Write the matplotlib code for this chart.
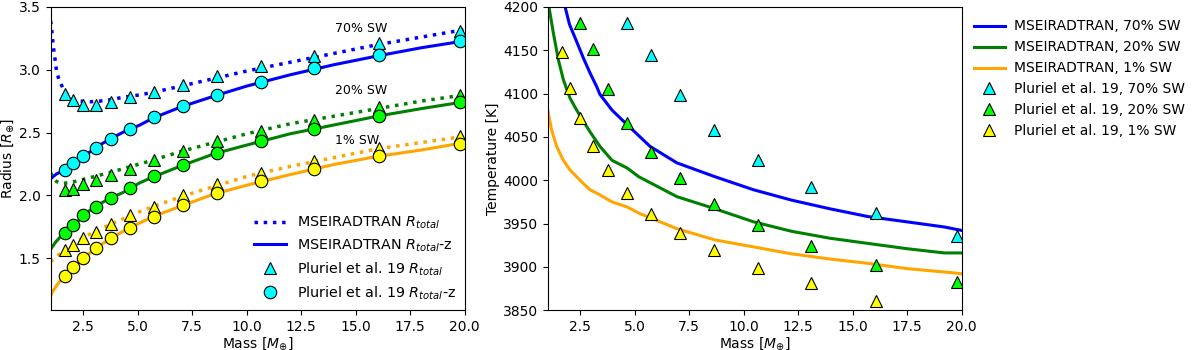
import numpy as np
import matplotlib
matplotlib.use("Agg")
import matplotlib.pyplot as plt

# masses of the Pluriel et al. 19 grid points [M_earth]
pl_mass = [1.68, 2.03, 2.5, 3.08, 3.78, 4.66, 5.73, 7.06, 8.65, 10.64, 13.09, 16.09, 19.8]

# Pluriel radii: R_total (triangles) and R_total-z (circles)
pl_rtot_70 = [2.81, 2.76, 2.72, 2.72, 2.74, 2.78, 2.82, 2.88, 2.95, 3.03, 3.11, 3.21, 3.31]
pl_rz_70 = [2.20, 2.26, 2.31, 2.38, 2.45, 2.53, 2.62, 2.71, 2.80, 2.90, 3.01, 3.12, 3.23]
pl_rtot_20 = [2.04, 2.05, 2.09, 2.12, 2.16, 2.21, 2.28, 2.35, 2.43, 2.51, 2.60, 2.70, 2.80]
pl_rz_20 = [1.70, 1.76, 1.84, 1.91, 1.98, 2.06, 2.15, 2.24, 2.34, 2.43, 2.53, 2.63, 2.74]
pl_rtot_1 = [1.56, 1.60, 1.66, 1.71, 1.77, 1.84, 1.91, 2.00, 2.09, 2.18, 2.27, 2.38, 2.47]
pl_rz_1 = [1.36, 1.43, 1.50, 1.58, 1.66, 1.74, 1.83, 1.92, 2.02, 2.11, 2.21, 2.31, 2.41]

# Pluriel temperatures (nan = outside the plotted range)
pl_temp_70 = [np.nan, np.nan, np.nan, np.nan, np.nan, 4181, 4144, 4098, 4058, 4023, 3992, 3962, 3936]
pl_temp_20 = [np.nan, np.nan, 4181, 4151, 4105, 4066, 4032, 4002, 3973, 3948, 3924, 3902, 3882]
pl_temp_1 = [4148, 4107, 4072, 4040, 4012, 3985, 3961, 3939, 3919, 3899, 3881, 3861, np.nan]

# MSEIRADTRAN radius curves
ms_mass = [1.0, 1.06, 1.12, 1.2, 1.27, 1.4, 1.58, 1.8, 2.0, 2.35, 2.8, 3.25, 3.7, 4.3,
           5.1, 5.7, 7.0, 8.5, 10.0, 12.0, 14.0, 16.0, 18.0, 20.0]
ms_rtot_70 = [3.39, 3.30, 3.19, 3.085, 2.99, 2.91, 2.85, 2.79, 2.77, 2.75, 2.745, 2.75, 2.76, 2.78,
              2.80, 2.82, 2.87, 2.93, 2.99, 3.06, 3.13, 3.20, 3.26, 3.32]
ms_rz_70 = [2.13, 2.14, 2.15, 2.16, 2.17, 2.18, 2.195, 2.22, 2.25, 2.295, 2.345, 2.40, 2.445, 2.50,
            2.56, 2.615, 2.705, 2.79, 2.87, 2.96, 3.04, 3.11, 3.175, 3.23]
ms_rtot_20 = [2.18, 2.16, 2.14, 2.12, 2.11, 2.10, 2.095, 2.10, 2.105, 2.12, 2.14, 2.16, 2.18, 2.21,
              2.25, 2.28, 2.35, 2.42, 2.49, 2.57, 2.63, 2.69, 2.75, 2.80]
ms_rz_20 = [1.57, 1.585, 1.60, 1.62, 1.635, 1.66, 1.69, 1.725, 1.755, 1.81, 1.88, 1.93, 1.975, 2.02,
            2.10, 2.145, 2.235, 2.33, 2.40, 2.49, 2.56, 2.63, 2.69, 2.745]
ms_rtot_1 = [1.47, 1.48, 1.49, 1.50, 1.51, 1.53, 1.55, 1.58, 1.61, 1.65, 1.69, 1.73, 1.765, 1.81,
             1.87, 1.91, 1.99, 2.07, 2.15, 2.23, 2.30, 2.37, 2.42, 2.47]
ms_rz_1 = [1.20, 1.22, 1.24, 1.26, 1.28, 1.31, 1.345, 1.385, 1.42, 1.47, 1.54, 1.60, 1.65, 1.71,
           1.78, 1.83, 1.915, 2.01, 2.08, 2.165, 2.245, 2.31, 2.36, 2.42]

# MSEIRADTRAN temperature curves
t_mass_70 = [1.8, 2.0, 2.33, 2.64, 2.94, 3.25, 3.4, 3.95, 4.65, 5.7, 6.93, 8.68, 10.44,
             12.19, 13.95, 15.7, 17.46, 19.2, 20.0]
t_70 = [4200, 4180, 4160, 4141, 4124, 4108, 4099, 4081, 4064, 4039, 4020, 4004, 3989,
        3977, 3967, 3958, 3952, 3946, 3942]
t_mass_20 = [1.06, 1.26, 1.49, 1.72, 2.02, 2.33, 2.64, 2.94, 3.4, 3.95, 4.65, 5.18, 6.93,
             8.68, 10.44, 12.19, 13.95, 15.7, 17.46, 19.2, 20.0]
t_20 = [4200, 4170, 4139, 4116, 4095, 4081, 4068, 4056, 4039, 4023, 4014, 4004, 3981,
        3967, 3952, 3941, 3933, 3927, 3921, 3916, 3916]
t_mass_1 = [1.0, 1.18, 1.41, 1.72, 2.02, 2.33, 2.64, 2.94, 3.4, 3.95, 4.65, 5.18, 6.93,
            8.68, 10.44, 12.19, 13.95, 15.7, 17.46, 19.2, 20.0]
t_1 = [4081, 4058, 4039, 4023, 4012, 4004, 3996, 3989, 3983, 3975, 3969, 3962, 3944,
       3931, 3923, 3915, 3909, 3904, 3898, 3894, 3892]

sw_labels = ["70% SW", "20% SW", "1% SW"]
line_colors = ["blue", "green", "orange"]
marker_colors = ["cyan", "lime", "yellow"]

plt.rcParams["font.size"] = 10

fig = plt.figure(figsize=(12, 3.5), dpi=100)
ax1 = fig.add_axes([0.0422, 0.114, 0.345, 0.866])
ax2 = fig.add_axes([0.4564, 0.114, 0.345, 0.866])

# ---- left panel: radius
rtot = [ms_rtot_70, ms_rtot_20, ms_rtot_1]
rz = [ms_rz_70, ms_rz_20, ms_rz_1]
p_rtot = [pl_rtot_70, pl_rtot_20, pl_rtot_1]
p_rz = [pl_rz_70, pl_rz_20, pl_rz_1]

for i in range(3):
    ax1.plot(ms_mass, rtot[i], ls=":", lw=2.5, color=line_colors[i],
             label="MSEIRADTRAN $R_{total}$" if i == 0 else None)
    ax1.plot(ms_mass, rz[i], ls="-", lw=2.2, color=line_colors[i],
             label="MSEIRADTRAN $R_{total}$-z" if i == 0 else None)
for i in range(3):
    ax1.plot(pl_mass, p_rtot[i], ls="none", marker="^", ms=9, mfc=marker_colors[i],
             mec="black", mew=0.8,
             label="Pluriel et al. 19 $R_{total}$" if i == 0 else None)
    ax1.plot(pl_mass, p_rz[i], ls="none", marker="o", ms=9, mfc=marker_colors[i],
             mec="black", mew=0.8,
             label="Pluriel et al. 19 $R_{total}$-z" if i == 0 else None)

ax1.text(14.05, 3.33, sw_labels[0], va="center", ha="left", fontsize=9)
ax1.text(14.05, 2.835, sw_labels[1], va="center", ha="left", fontsize=9)
ax1.text(14.05, 2.44, sw_labels[2], va="center", ha="left", fontsize=9)

ax1.set_xlim(1.0, 20.0)
ax1.set_ylim(1.085, 3.5)
ax1.set_xticks(np.arange(2.5, 20.01, 2.5))
ax1.set_yticks(np.arange(1.5, 3.51, 0.5))
ax1.set_xlabel(r"Mass [$M_{\oplus}$]", labelpad=1)
ax1.set_ylabel(r"Radius [$R_{\oplus}$]", labelpad=2)
ax1.legend(loc="lower right", frameon=False, handlelength=2.2, borderaxespad=0.2,
           fontsize=10.3, labelspacing=0.45)

# ---- right panel: temperature
t_masses = [t_mass_70, t_mass_20, t_mass_1]
t_vals = [t_70, t_20, t_1]
p_temp = [pl_temp_70, pl_temp_20, pl_temp_1]

for i in range(3):
    ax2.plot(t_masses[i], t_vals[i], lw=2.2, color=line_colors[i],
             label="MSEIRADTRAN, " + sw_labels[i])
for i in range(3):
    ax2.plot(pl_mass, p_temp[i], ls="none", marker="^", ms=9, mfc=marker_colors[i],
             mec="black", mew=0.8, label="Pluriel et al. 19, " + sw_labels[i])

ax2.set_xlim(1.0, 20.0)
ax2.set_ylim(3850, 4200)
ax2.set_xticks(np.arange(2.5, 20.01, 2.5))
ax2.set_yticks(np.arange(3850, 4201, 50))
ax2.set_xlabel(r"Mass [$M_{\oplus}$]", labelpad=1)
ax2.set_ylabel("Temperature [K]", labelpad=2)
ax2.legend(loc="upper left", bbox_to_anchor=(1.0, 1.0), frameon=False, handlelength=2.2,
           handletextpad=0.7, fontsize=10.0, labelspacing=0.5)

fig.savefig("out.png", dpi=100)
